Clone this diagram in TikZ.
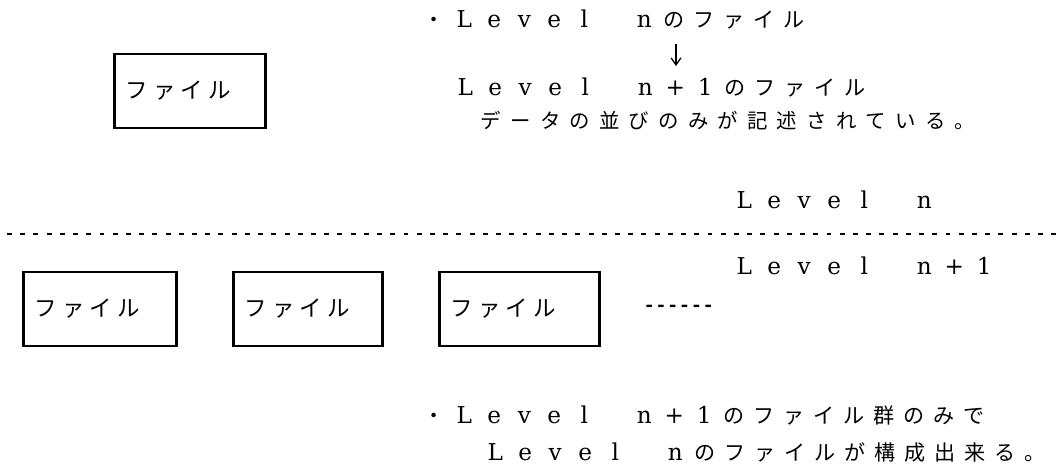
\documentclass[tikz,border=0pt]{standalone}
\usepackage{fontspec}
\setmainfont{DejaVu Serif}
\newfontfamily\cjk{Noto Sans CJK JP}
\newfontfamily\monof{Liberation Mono}
\usetikzlibrary{arrows.meta}
\newlength\cw
\setlength\cw{0.75cm}
\makeatletter
\def\cells#1{\cells@#1\@nil}
\def\cells@#1{\ifx#1\@nil\else\makebox[\cw]{\ifx#1_\else#1\fi}\expandafter\cells@\fi}
\makeatother
\newcommand\lat{\fontsize{16.5pt}{19pt}\selectfont}
\newcommand\jp{\cjk\fontsize{15pt}{17pt}\selectfont}
\newcommand\jps{\cjk\fontsize{14.5pt}{16pt}\selectfont}
\newcommand\filetext{{\cjk\fontsize{16pt}{18pt}\selectfont\setlength\cw{0.69cm}\cells{ファイル}}}
\begin{document}
\begin{tikzpicture}[x=0.025cm,y=-0.025cm,
  txt/.style={anchor=west, inner sep=0pt},
  filebox/.style={draw, line width=2pt, minimum height=1.85cm, inner xsep=0.22cm,
    anchor=west, text width=#1, align=left},
  sepline/.style={line width=1.4pt, dash pattern=on 3.5pt off 5.9pt},
  downarrow/.style={line width=0.9pt, -{Straight Barb[length=5pt,width=7pt]}}]
\useasboundingbox (0,0) rectangle (1061,470);
% top file box
\node[filebox=3.33cm] (topfile) at (113,91) {\filetext};
% top text
\node[txt] (t1) at (419,20) {{\jp\cells{・}}{\lat\cells{Level_n}}{\jp\cells{のファイル}}};
\coordinate (arT) at (676,44);
\coordinate (arB) at (676,66);
\draw[downarrow] (arT) -- (arB);
\node[txt] (t2) at (450,88) {{\lat\cells{Level_n+1}}{\jp\cells{のファイル}}};
\node[txt] (t3) at (476,121) {{\jps\setlength\cw{0.74cm}\cells{データの並びのみが記述されている。}}};
% levels
\node[txt] (lvn) at (729,200) {{\lat\cells{Level_n}}};
\coordinate (sepL) at (7,234);
\coordinate (sepR) at (1061,234);
\draw[sepline] (sepL) -- (sepR);
\node[txt] (lvn1) at (729,266) {{\lat\cells{Level_n+1}}};
% bottom boxes
\node[filebox=3.38cm] (f1) at (22,309) {\filetext};
\node[filebox=3.28cm] (f2) at (232,309) {\filetext};
\node[filebox=3.56cm] (f3) at (438,309) {\filetext};
\node[txt] (dots) at (643,308) {\monof\bfseries\fontsize{14pt}{16pt}\selectfont ------};
% bottom text
\node[txt] (b1) at (419,415) {{\jp\cells{・}}{\lat\cells{Level_n+1}}{\jp\cells{のファイル群のみで}}};
\node[txt] (b2) at (480,452) {{\lat\cells{Level_n}}{\jp\cells{のファイルが構成出来る。}}};
\end{tikzpicture}
\end{document}
